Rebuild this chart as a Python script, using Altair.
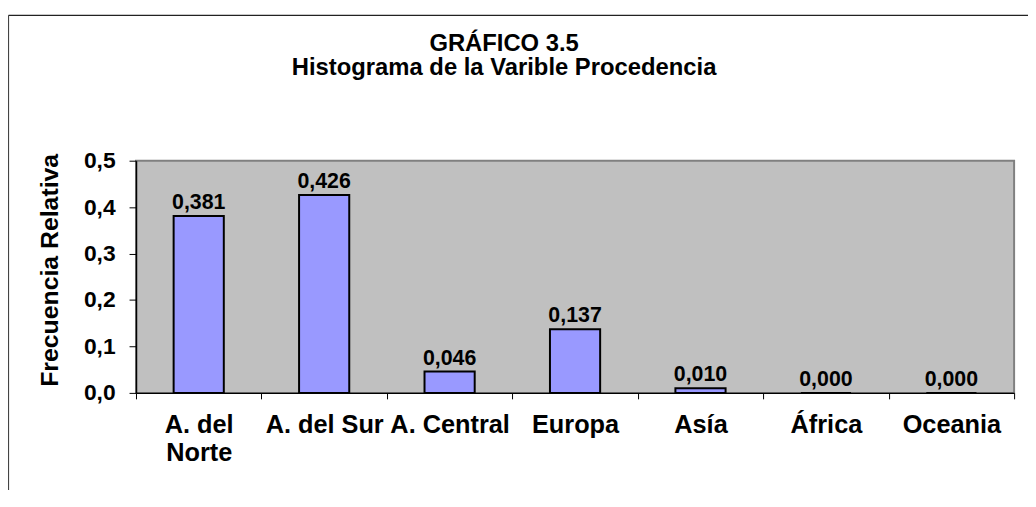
import altair as alt
import pandas as pd

categories = ["A. del Norte", "A. del Sur", "A. Central", "Europa", "Asía", "África", "Oceania"]
values = [0.381, 0.426, 0.046, 0.137, 0.010, 0.000, 0.000]
y_ticks = [0.0, 0.1, 0.2, 0.3, 0.4, 0.5]
title_lines = ["GRÁFICO 3.5", "Histograma de la Varible Procedencia"]

df = pd.DataFrame({"cat": categories, "v": values})

FONT = "Liberation Sans"
W, H = 885, 234
PAD = {"left": 129, "top": 152, "right": 14, "bottom": 98}

x_enc = alt.X(
    "cat:N",
    sort=categories,
    scale=alt.Scale(paddingInner=0, paddingOuter=0),
    axis=alt.Axis(
        title=None,
        labelAngle=0,
        labelFont=FONT,
        labelFontSize=25.5,
        labelFontWeight="bold",
        labelColor="black",
        labelPadding=14,
        labelLineHeight=28,
        labelLimit=300,
        labelExpr="datum.label == 'A. del Norte' ? ['A. del', 'Norte'] : datum.label",
        tickBand="extent",
        tickSize=6,
        tickColor="black",
        domainColor="black",
        domainWidth=1.5,
    ),
)
y_enc = alt.Y(
    "v:Q",
    scale=alt.Scale(domain=[0, 0.5], nice=False, zero=True),
    axis=alt.Axis(
        title="Frecuencia Relativa",
        values=y_ticks,
        grid=False,
        labelFont=FONT,
        labelFontSize=23,
        labelFontWeight="bold",
        labelColor="black",
        labelPadding=14,
        labelExpr="replace(format(datum.value, '.1f'), '.', ',')",
        tickSize=7,
        tickColor="black",
        domainColor="black",
        domainWidth=1.5,
        titleFont=FONT,
        titleFontSize=25,
        titleFontWeight="bold",
        titleColor="black",
        titleAngle=270,
        titleBaseline="alphabetic",
        titleAlign="center",
        titleX=-79,
        titleY=110,
    ),
)

base = alt.Chart(df)

bars = base.mark_bar(
    width=alt.RelativeBandSize(0.4), fill="#9999FF", stroke="black", strokeWidth=2
).encode(x=x_enc, y=y_enc)

labels = base.transform_calculate(
    lab="replace(format(datum.v, '.3f'), '.', ',')"
).mark_text(
    dy=-7, baseline="alphabetic", font=FONT, fontSize=21.5, fontWeight="bold", color="black"
).encode(x=alt.X("cat:N", sort=categories), y="v:Q", text="lab:N")

frame_data = alt.Data(values=[{"a": 1}])
frame_top = alt.Chart(frame_data).mark_rule(color="#222222", strokeWidth=1.2).encode(
    x=alt.value(-128.5), x2=alt.value(W + PAD["right"]), y=alt.value(-146.5)
)
frame_left = alt.Chart(frame_data).mark_rule(color="#444444", strokeWidth=1.2).encode(
    x=alt.value(-128.5), y=alt.value(-146.5), y2=alt.value(H + PAD["bottom"])
)
title = alt.Chart(frame_data).mark_text(
    text=title_lines,
    font=FONT,
    fontSize=24,
    fontWeight="bold",
    color="black",
    align="center",
    baseline="alphabetic",
    lineHeight=25,
).encode(x=alt.value(508 - 137), y=alt.value(49 - 160))

chart = alt.layer(frame_top, frame_left, title, bars, labels).properties(
    width=W,
    height=H,
    autosize=alt.AutoSizeParams(type="none"),
    padding=PAD,
    background="white",
).configure_view(
    fill="#C0C0C0", stroke="#808080", strokeWidth=2
)

chart.save("out.html", embed_options={"renderer": "svg", "actions": False})
